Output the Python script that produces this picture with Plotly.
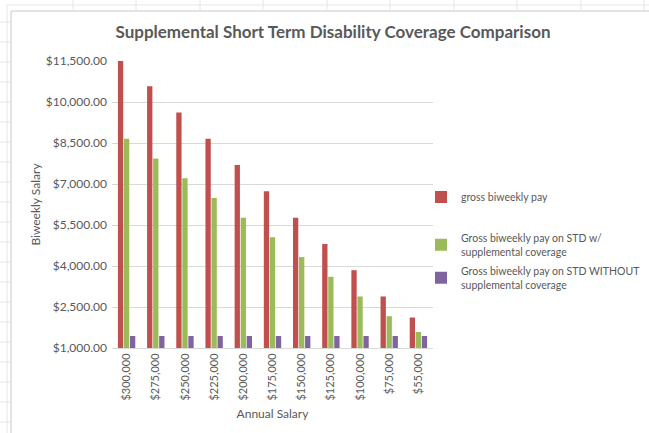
import plotly.graph_objects as go

categories = ["$300,000", "$275,000", "$250,000", "$225,000", "$200,000", "$175,000",
              "$150,000", "$125,000", "$100,000", "$75,000", "$55,000"]
gross_pay = [11538, 10577, 9615, 8654, 7692, 6731, 5769, 4808, 3846, 2885, 2115]
std_with_supp = [8654, 7933, 7211, 6490, 5769, 5048, 4327, 3606, 2885, 2164, 1586]
std_without_supp = [1440, 1440, 1440, 1440, 1440, 1440, 1440, 1440, 1440, 1440, 1440]
y_ticks = [1000, 2500, 4000, 5500, 7000, 8500, 10000, 11500]

series_names = ["gross biweekly pay",
                "Gross biweekly pay on STD w/<br>supplemental coverage",
                "Gross biweekly pay on STD WITHOUT<br>supplemental coverage"]
colors = ["#C0504D", "#9BBB59", "#8064A2"]
FONT = "Lato"
TXT = "#595959"

W, H = 649, 433
L, R, T, B = 112, 433, 61, 348

fig = go.Figure()
legend_ids = ["legend", "legend2", "legend3"]
for vals, name, col, lg in zip([gross_pay, std_with_supp, std_without_supp], series_names, colors, legend_ids):
    fig.add_trace(go.Bar(x=categories, y=vals, name=name, marker_color=col,
                         marker_line_width=0, legend=lg, showlegend=True))

def px(x):
    return (x - L) / (R - L)

def py(y):
    return (B - y) / (B - T)

shapes = []
# chart border (Excel chart area)
shapes.append(dict(type="line", xref="paper", yref="paper", x0=px(11), x1=px(649), y0=py(11), y1=py(11),
                   line=dict(color="#C8C8C8", width=1)))
shapes.append(dict(type="line", xref="paper", yref="paper", x0=px(11), x1=px(11), y0=py(11), y1=py(433),
                   line=dict(color="#C8C8C8", width=1)))
# spreadsheet cell lines
shapes.append(dict(type="line", xref="paper", yref="paper", x0=px(7), x1=px(649), y0=py(5), y1=py(5),
                   line=dict(color="#E6E6E6", width=1)))
shapes.append(dict(type="line", xref="paper", yref="paper", x0=px(7), x1=px(7), y0=py(5), y1=py(433),
                   line=dict(color="#E6E6E6", width=1)))
for cx in [73, 136, 200, 263, 327, 390, 454, 517, 581, 644]:
    shapes.append(dict(type="line", xref="paper", yref="paper", x0=px(cx), x1=px(cx), y0=py(0), y1=py(10),
                       line=dict(color="#E6E6E6", width=1)))
for ry in range(22, 433, 20):
    shapes.append(dict(type="line", xref="paper", yref="paper", x0=px(0), x1=px(10), y0=py(ry), y1=py(ry),
                       line=dict(color="#E6E6E6", width=1)))

legend_common = dict(font=dict(family=FONT, size=10.5, color=TXT), bgcolor="rgba(0,0,0,0)",
                     xanchor="left", yanchor="middle", itemwidth=30, borderwidth=0)

fig.update_layout(
    width=W, height=H,
    margin=dict(l=L, r=W - R, t=T, b=H - B, autoexpand=False),
    paper_bgcolor="white", plot_bgcolor="white",
    title=dict(text="<b>Supplemental Short Term Disability Coverage Comparison</b>",
               x=(333) / W, xanchor="center", y=1 - 32 / H, yanchor="middle",
               font=dict(family=FONT, size=17, color=TXT)),
    barmode="group", bargap=0.38, bargroupgap=0.12,
    shapes=shapes,
    legend=dict(x=px(421), y=py(197), **legend_common),
    legend2=dict(x=px(421), y=py(245), **legend_common),
    legend3=dict(x=px(421), y=py(278), **legend_common),
    xaxis=dict(title=dict(text="Annual Salary", font=dict(family=FONT, size=12, color=TXT), standoff=10),
               tickangle=-90, tickfont=dict(family=FONT, size=11, color=TXT),
               showline=True, linecolor="#D9D9D9", linewidth=1, showgrid=False, ticks=""),
    yaxis=dict(title=dict(text="Biweekly Salary", font=dict(family=FONT, size=12, color=TXT), standoff=2),
               range=[1000, 11500], tickvals=y_ticks, tickformat="$,.2f",
               tickfont=dict(family=FONT, size=12, color=TXT), ticklabelstandoff=4,
               showgrid=True, gridcolor="#D9D9D9", gridwidth=1, zeroline=False, showline=False, ticks=""),
)

fig.write_html("out.html", config={"displayModeBar": False})
